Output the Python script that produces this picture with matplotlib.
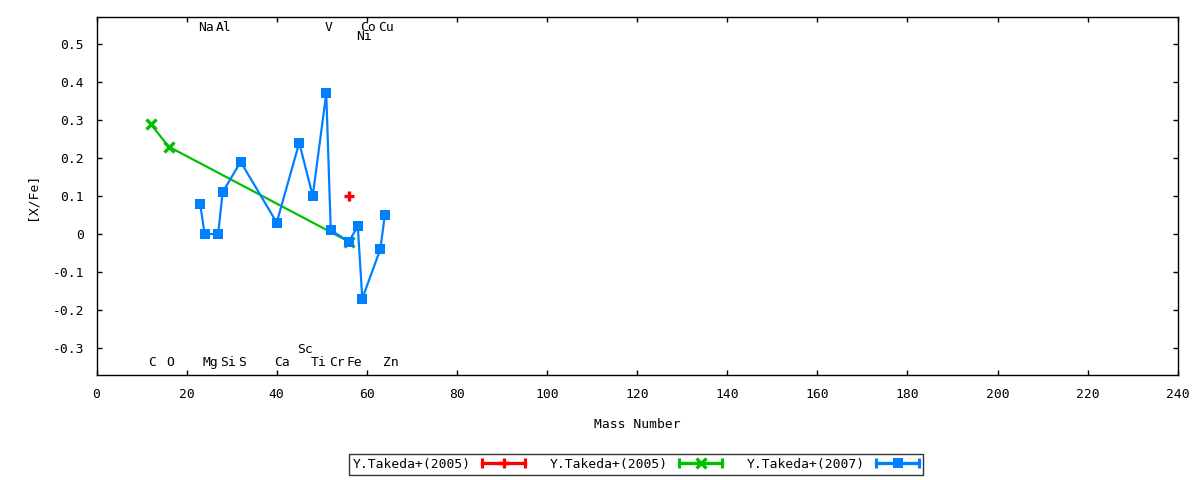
import matplotlib
matplotlib.use("Agg")
import matplotlib.pyplot as plt
from matplotlib.lines import Line2D
from matplotlib.legend_handler import HandlerBase

# ---- data ----
red_mass = [56]
red_val = [0.10]

green_mass = [12, 16, 56]
green_val = [0.29, 0.23, -0.02]

blue_mass = [23, 24, 27, 28, 32, 40, 45, 48, 51, 52, 56, 58, 59, 63, 64]
blue_val = [0.08, 0.00, 0.00, 0.11, 0.19, 0.03, 0.24, 0.10, 0.37, 0.01,
            -0.02, 0.02, -0.17, -0.04, 0.05]

series_labels = ["Y.Takeda+(2005)", "Y.Takeda+(2005)", "Y.Takeda+(2007)"]

elem_names = ["C", "O", "Na", "Mg", "Al", "Si", "S", "Ca", "Sc", "Ti", "V",
              "Cr", "Fe", "Ni", "Co", "Cu", "Zn"]
elem_mass = [12, 16, 23, 24, 27, 28, 32, 40, 45, 48, 51, 52, 56, 58, 59, 63, 64]
elem_y = [-0.339, -0.339, 0.543, -0.339, 0.543, -0.339, -0.339, -0.339, -0.304,
          -0.339, 0.543, -0.339, -0.339, 0.519, 0.543, 0.543, -0.339]

xticks = [0, 20, 40, 60, 80, 100, 120, 140, 160, 180, 200, 220, 240]
yticks = [-0.3, -0.2, -0.1, 0.0, 0.1, 0.2, 0.3, 0.4, 0.5]
ytick_labels = ["-0.3", "-0.2", "-0.1", "0", "0.1", "0.2", "0.3", "0.4", "0.5"]

RED = "#ff0000"
GREEN = "#00c000"
BLUE = "#0080ff"

FONT = "DejaVu Sans Mono"
FS = 9.4
plt.rcParams["font.family"] = [FONT, "DejaVu Sans"]
plt.rcParams["font.size"] = FS

fig = plt.figure(figsize=(12, 4.8), dpi=100)
ax = fig.add_axes([96.5 / 1200, 1 - 375 / 480, (1177.7 - 96.5) / 1200, (375 - 17) / 480])

l_red, = ax.plot(red_mass, red_val, color=RED, lw=1.5, marker="+", ms=7, mew=2.4,
                 linestyle="-", zorder=4)
l_green, = ax.plot(green_mass, green_val, color=GREEN, lw=1.6, marker="x", ms=6.5,
                   mew=2.4, zorder=2)
l_blue, = ax.plot(blue_mass, blue_val, color=BLUE, lw=1.6, marker="s", ms=7.2,
                  mew=0, zorder=3)

for name, m, y in zip(elem_names, elem_mass, elem_y):
    ax.annotate(name, xy=(m, y), xytext=(-1.5, 0), textcoords="offset points",
                ha="left", va="center", fontsize=FS, color="black")

ax.set_xlim(0, 240)
ax.set_ylim(-0.371, 0.571)
ax.set_xticks(xticks)
ax.set_xticklabels([str(t) for t in xticks])
ax.set_yticks(yticks)
ax.set_yticklabels(ytick_labels)
ax.tick_params(direction="in", length=3.5, width=1, top=True, right=True,
               labelsize=FS, pad=9)
for s in ax.spines.values():
    s.set_linewidth(1)
    s.set_color("black")

ax.set_xlabel("Mass Number", fontsize=FS)
ax.set_ylabel("[X/Fe]", fontsize=FS)
ax.xaxis.set_label_coords(0.5, (375 - 418) / 358, transform=ax.transAxes)
ax.yaxis.set_label_coords((38 - 96.5) / 1081.2, 0.5, transform=ax.transAxes)


class CapHandler(HandlerBase):
    def create_artists(self, legend, orig_handle, xdescent, ydescent, width,
                       height, fontsize, trans):
        c = orig_handle.get_color()
        y = height / 2 - ydescent
        x0, x1 = -xdescent, width - xdescent
        line = Line2D([x0, x1], [y, y], color=c, lw=2.4)
        caps = Line2D([x0, x1], [y, y], ls="none", marker="|", ms=7, mew=2.2,
                      color=c)
        mk = Line2D([(x0 + x1) / 2], [y], ls="none",
                    marker=orig_handle.get_marker(), ms=orig_handle.get_markersize(),
                    mew=orig_handle.get_markeredgewidth() if orig_handle.get_marker() != "s" else 0,
                    color=c)
        arts = [line, caps, mk]
        for a in arts:
            a.set_transform(trans)
        return arts


leg = fig.legend([l_red, l_green, l_blue], series_labels, ncol=3,
                 loc="center", bbox_to_anchor=(636 / 1200, 1 - 464.5 / 480),
                 markerfirst=False, frameon=True, fancybox=False,
                 handlelength=3.3, handletextpad=0.85, columnspacing=1.9,
                 borderpad=0.3, borderaxespad=0, fontsize=FS,
                 handler_map={Line2D: CapHandler()})
leg.get_frame().set_edgecolor("black")
leg.get_frame().set_linewidth(1)

fig.savefig("out.png", dpi=100)
